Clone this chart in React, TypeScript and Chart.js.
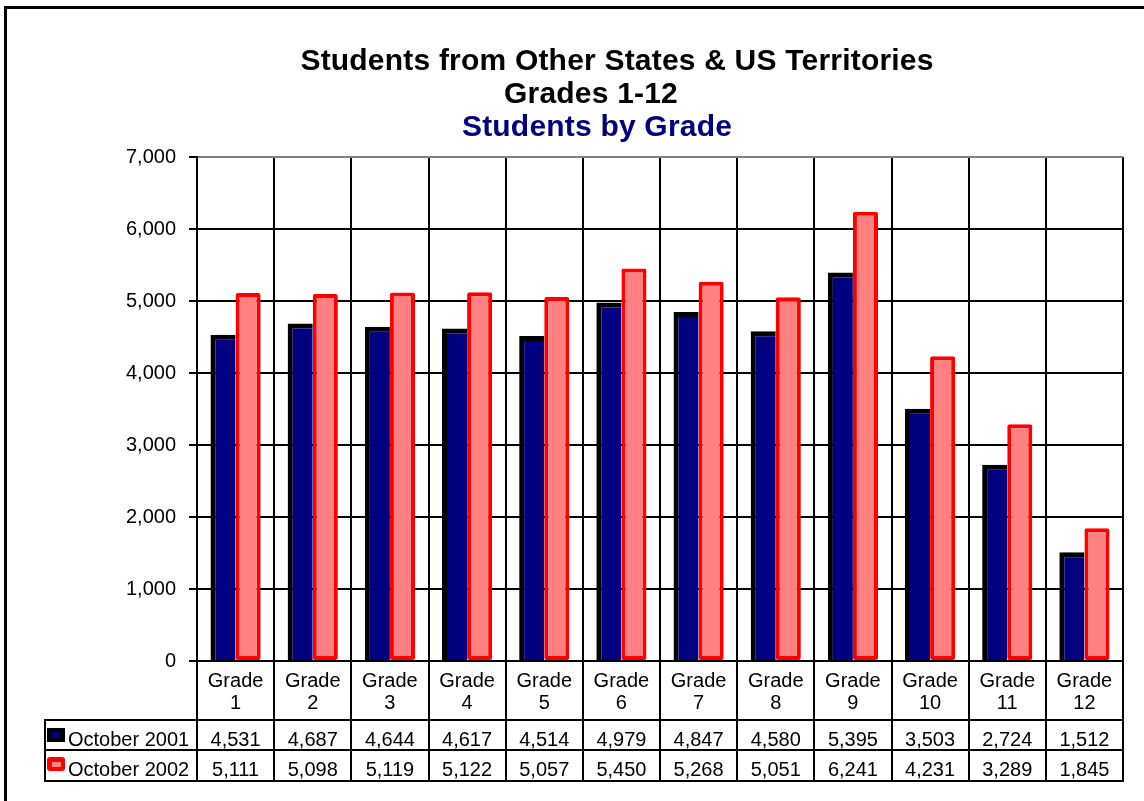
import React, { useEffect, useRef } from 'react';
import { Chart, registerables } from 'chart.js';

Chart.register(...registerables);

const FONT = '"Liberation Sans", Arial, Helvetica, sans-serif';

// ---- data ----
const grades = ['1', '2', '3', '4', '5', '6', '7', '8', '9', '10', '11', '12'];
const categoryLabels = grades.map((g) => ['Grade', g]);
const seriesNames = ['October 2001', 'October 2002'];
const oct2001 = [4531, 4687, 4644, 4617, 4514, 4979, 4847, 4580, 5395, 3503, 2724, 1512];
const oct2002 = [5111, 5098, 5119, 5122, 5057, 5450, 5268, 5051, 6241, 4231, 3289, 1845];
const yMin = 0;
const yMax = 7000;
const yStep = 1000;
const titleLines = ['Students from Other States & US Territories', 'Grades 1-12'];
const subtitleText = 'Students by Grade';

const fmt = (v: number) => Number(v).toLocaleString('en-US');

const excelPlugin = {
  id: 'excelTable',
  beforeDraw(chart: any) {
    const ctx = chart.ctx;
    ctx.save();
    ctx.fillStyle = '#ffffff';
    ctx.fillRect(0, 0, chart.width, chart.height);
    // outer frame (left and top edges visible)
    ctx.strokeStyle = '#000';
    ctx.lineWidth = 3;
    ctx.beginPath();
    ctx.moveTo(5.5, chart.height + 10);
    ctx.lineTo(5.5, 7.5);
    ctx.lineTo(chart.width + 10, 7.5);
    ctx.stroke();
    ctx.restore();
  },
  afterDraw(chart: any) {
    const { ctx, chartArea, scales } = chart;
    const xs = scales.x;
    const n = chart.data.labels.length;
    const cw = (chartArea.right - chartArea.left) / n;
    const axisY = chartArea.bottom;
    const row1 = Math.round(xs.bottom);
    const row2 = row1 + 30;
    const row3 = row1 + 61;
    const tableLeft = 45;

    ctx.save();
    // ---- titles ----
    ctx.textAlign = 'center';
    ctx.textBaseline = 'alphabetic';
    (ctx as any).letterSpacing = '0.2px';
    ctx.font = `bold 30px ${FONT}`;
    ctx.fillStyle = '#000';
    ctx.fillText(titleLines[0], 617, 70);
    ctx.fillText(titleLines[1], 591, 103);
    ctx.fillStyle = '#000080';
    ctx.fillText(subtitleText, 597, 136);
    (ctx as any).letterSpacing = '0px';

    // ---- table lines ----
    ctx.strokeStyle = '#000';
    ctx.lineWidth = 2;
    ctx.beginPath();
    for (let i = 0; i <= n; i++) {
      const xp = Math.round(chartArea.left + i * cw);
      ctx.moveTo(xp, axisY);
      ctx.lineTo(xp, row3);
    }
    [row1, row2, row3].forEach((y) => {
      ctx.moveTo(tableLeft, y);
      ctx.lineTo(chartArea.right + 1, y);
    });
    ctx.moveTo(tableLeft, row1 - 1);
    ctx.lineTo(tableLeft, row3 + 1);
    ctx.stroke();

    // ---- legend keys ----
    ctx.fillStyle = '#000';
    ctx.fillRect(47, row1 + 8, 18, 14);
    ctx.fillStyle = '#000080';
    ctx.fillRect(52, row1 + 12, 8, 6);
    ctx.fillStyle = '#ff0000';
    ctx.beginPath();
    (ctx as any).roundRect(47, row2 + 7, 18, 14, 3);
    ctx.fill();
    ctx.fillStyle = '#ff8080';
    ctx.fillRect(52, row2 + 12, 9, 5);

    // ---- table text ----
    ctx.font = `20px ${FONT}`;
    ctx.fillStyle = '#000';
    ctx.textAlign = 'left';
    ctx.fillText(seriesNames[0], 68, row1 + 26);
    ctx.fillText(seriesNames[1], 68, row2 + 26);
    ctx.textAlign = 'center';
    const rows = [oct2001, oct2002];
    rows.forEach((vals, r) => {
      const base = (r === 0 ? row1 : row2) + 26;
      vals.forEach((v, i) => {
        const cx = xs.getPixelForValue(i);
        ctx.fillText(fmt(v), cx, base);
      });
    });
    ctx.restore();
  },
};

export default function App() {
  const ref = useRef<HTMLCanvasElement>(null);

  useEffect(() => {
    if (!ref.current) return;
    Chart.defaults.font.family = FONT;
    const n = categoryLabels.length;
    const chart = new Chart(ref.current, {
      type: 'bar',
      data: {
        labels: categoryLabels,
        datasets: [
          {
            label: seriesNames[0],
            data: oct2001,
            backgroundColor: '#000080',
            borderColor: '#000000',
            borderWidth: { top: 5, left: 5, right: 0, bottom: 0 },
            borderSkipped: false,
            categoryPercentage: 0.65,
            barPercentage: 1.0,
          },
          {
            label: seriesNames[1],
            data: oct2002,
            backgroundColor: '#ff8080',
            borderColor: '#ff0000',
            borderWidth: 4,
            borderSkipped: false,
            borderRadius: 2,
            categoryPercentage: 0.65,
            barPercentage: 1.0,
          },
        ],
      },
      options: {
        responsive: false,
        animation: false,
        devicePixelRatio: 1,
        events: [],
        layout: { padding: { top: 157, right: 21, bottom: 81, left: 0 } },
        plugins: {
          legend: { display: false },
          tooltip: { enabled: false },
          title: { display: false },
        },
        scales: {
          x: {
            offset: true,
            grid: {
              offset: true,
              color: (c: any) => (c.index === n ? '#808080' : '#000000'),
              lineWidth: 2,
              drawTicks: false,
            },
            border: { color: '#000', width: 2 },
            ticks: {
              color: '#000',
              font: { family: FONT, size: 20, lineHeight: 1.1 },
              padding: 9,
              maxRotation: 0,
              autoSkip: false,
            },
            afterFit: (s: any) => {
              s.height = 59;
            },
          },
          y: {
            min: yMin,
            max: yMax,
            ticks: {
              stepSize: yStep,
              color: '#000',
              font: { family: FONT, size: 20 },
              padding: 13,
              callback: (v: any) => fmt(v),
            },
            grid: {
              color: (c: any) => (c.tick && c.tick.value === yMax ? '#808080' : '#000000'),
              tickColor: '#000',
              lineWidth: 2,
              tickLength: 8,
              drawTicks: true,
            },
            border: { color: '#000', width: 2 },
            afterFit: (s: any) => {
              s.width = 197;
            },
          },
        },
      },
      plugins: [excelPlugin],
    } as any);
    return () => chart.destroy();
  }, []);

  return (
    <div style={{ position: 'fixed', left: 0, top: 0, width: 1144, height: 801, background: '#fff' }}>
      <canvas ref={ref} width={1144} height={801} style={{ display: 'block', width: 1144, height: 801 }} />
    </div>
  );
}
